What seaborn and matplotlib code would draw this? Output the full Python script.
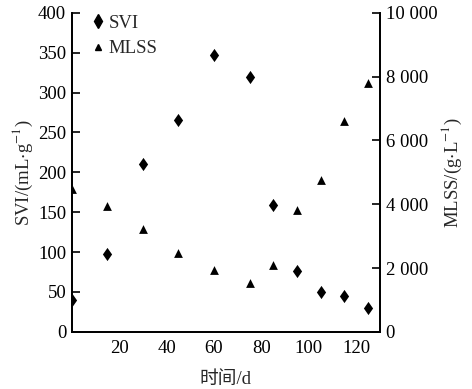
import matplotlib
matplotlib.use("Agg")
import matplotlib.pyplot as plt
import pandas as pd
import seaborn as sns
from matplotlib.lines import Line2D
from matplotlib.markers import MarkerStyle

# data
days = [0, 15, 30, 45, 60, 75, 85, 95, 105, 115, 125]
svi = [40, 98, 210, 265, 347, 320, 159, 76, 50, 45, 30]
mlss = [4470, 3960, 3220, 2470, 1940, 1540, 2080, 3830, 4770, 6620, 7810]

x_ticks = [20, 40, 60, 80, 100, 120]
svi_ticks = list(range(0, 401, 50))
mlss_ticks = [0, 2000, 4000, 6000, 8000, 10000]
mlss_labels = ["0", "2 000", "4 000", "6 000", "8 000", "10 000"]

sns.set_style("white")
plt.rcParams["font.family"] = ["Liberation Serif", "Noto Sans CJK SC"]
plt.rcParams["mathtext.fontset"] = "stix"
fs = 13.5

df = pd.DataFrame({"day": days, "svi": svi, "mlss": mlss})

fig = plt.figure(figsize=(4.72, 3.89), dpi=100)
ax = fig.add_axes([0.152, 0.147, 0.653, 0.82])
ax2 = ax.twinx()

sns.scatterplot(data=df, x="day", y="svi", ax=ax, marker="D", s=45,
                color="black", edgecolor="black", linewidth=0, legend=False)
sns.scatterplot(data=df, x="day", y="mlss", ax=ax2, marker="^", s=40,
                color="black", edgecolor="black", linewidth=0, legend=False)

# diamonds in the reference are taller than wide
m = MarkerStyle("D")
ax.collections[0].set_paths([m.get_path().transformed(m.get_transform().scale(0.7, 1.0))])

ax.set_xlim(0, 130)
ax.set_ylim(0, 400)
ax2.set_ylim(0, 10000)
ax.set_xticks(x_ticks)
ax.set_yticks(svi_ticks)
ax2.set_yticks(mlss_ticks)
ax2.set_yticklabels(mlss_labels)

ax.set_xlabel("时间/d", labelpad=10, fontsize=fs)
ax.set_ylabel(r"SVI/(mL$\cdot$g$^{-1}$)", labelpad=2, fontsize=fs)
ax2.set_ylabel(r"MLSS/(g$\cdot$L$^{-1}$)", labelpad=2, fontsize=fs)

for a in (ax, ax2):
    a.tick_params(direction="in", length=6, width=1.2, colors="black", labelsize=fs)
    a.spines["top"].set_visible(False)
    for s in ("left", "right", "bottom"):
        a.spines[s].set_color("black")
        a.spines[s].set_linewidth(1.3)
ax.tick_params(axis="y", pad=4)
ax.tick_params(axis="x", pad=6)
ax2.tick_params(axis="y", pad=4)

handles = [
    Line2D([], [], marker="d", color="black", linestyle="none", markersize=7),
    Line2D([], [], marker="^", color="black", linestyle="none", markersize=5),
]
ax.legend(handles, ["SVI", "MLSS"], loc="upper left", frameon=False,
          handlelength=0.7, handletextpad=0.2, borderaxespad=0.0,
          labelspacing=0.45, bbox_to_anchor=(0.04, 1.018), fontsize=fs)

fig.savefig("out.png", dpi=100)
